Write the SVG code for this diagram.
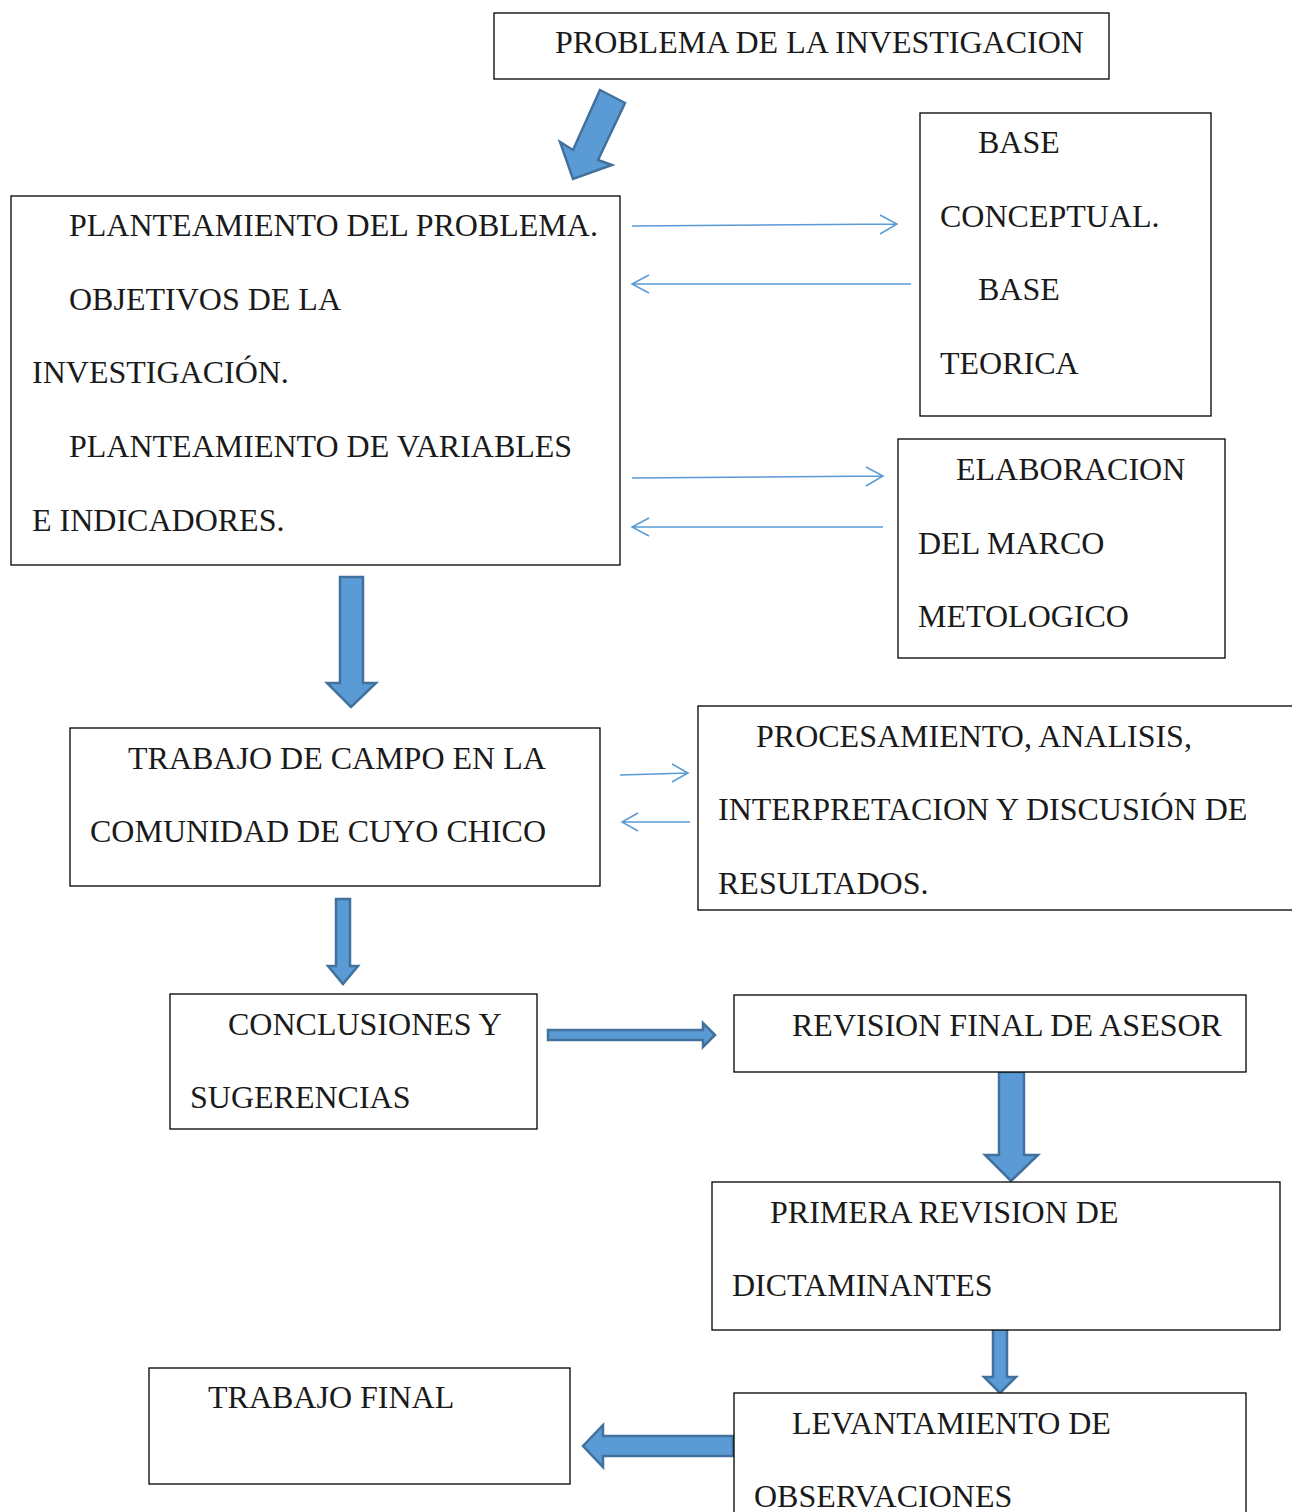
<svg xmlns="http://www.w3.org/2000/svg" width="1292" height="1512" viewBox="0 0 1292 1512">
<style>
.box{fill:#fff;stroke:#000;stroke-width:1.3}
.t{font-family:"Liberation Serif","Times New Roman",serif;font-size:32px;fill:#1a1a1a}
.blk{fill:#5b9bd5;stroke:#41719c;stroke-width:2.5;stroke-linejoin:miter}
.thin{fill:none;stroke:#5b9bd5;stroke-width:1.5}
</style>
<rect width="1292" height="1512" fill="#fff"/>
<g id="connectors">
<polygon class="blk" points="600,90 625,103 598,160 612,165 573,179 560,142 573,150"/>
<polygon class="blk" points="340,577 363,577 363,683 376,683 351,707 327,683 340,683"/>
<polygon class="blk" points="336,899 350,899 350,966 358,966 343,984 328,966 336,966"/>
<polygon class="blk" points="548,1030 703,1030 703,1023 715,1035 703,1047 703,1040 548,1040"/>
<polygon class="blk" points="999,1072 1024,1072 1024,1155 1038,1155 1011,1181 985,1155 999,1155"/>
<polygon class="blk" points="993,1329 1007,1329 1007,1377 1016,1377 1000,1393 984,1377 993,1377"/>
<polygon class="blk" points="733,1436 603,1436 603,1425 583,1446 603,1467 603,1456 733,1456"/>
<path class="thin" d="M632,226 L897,224 M880,215 L897,224 L880,234"/>
<path class="thin" d="M911,284 L632,284 M649,275 L632,284 L649,293"/>
<path class="thin" d="M632,478 L883,476 M866,467 L883,476 L866,486"/>
<path class="thin" d="M883,527 L632,527 M649,518 L632,527 L649,536"/>
<path class="thin" d="M620,775 L688,773 M672,764 L688,773 L672,782"/>
<path class="thin" d="M690,822 L622,822 M638,813 L622,822 L638,831"/>
</g>
<g id="n-problema"><rect class="box" x="494" y="13" width="615" height="66"/><text class="t" x="555" y="53">PROBLEMA DE LA INVESTIGACION</text></g>
<g id="n-planteamiento"><rect class="box" x="11" y="196" width="609" height="369"/>
<text class="t" x="69" y="236">PLANTEAMIENTO DEL PROBLEMA.</text>
<text class="t" x="69" y="310">OBJETIVOS DE LA</text>
<text class="t" x="32" y="383">INVESTIGACIÓN.</text>
<text class="t" x="69" y="457">PLANTEAMIENTO DE VARIABLES</text>
<text class="t" x="32" y="531">E INDICADORES.</text></g>
<g id="n-base"><rect class="box" x="920" y="113" width="291" height="303"/>
<text class="t" x="978" y="153">BASE</text>
<text class="t" x="940" y="227">CONCEPTUAL.</text>
<text class="t" x="978" y="300">BASE</text>
<text class="t" x="940" y="374">TEORICA</text></g>
<g id="n-elaboracion"><rect class="box" x="898" y="439" width="327" height="219"/>
<text class="t" x="956" y="480">ELABORACION</text>
<text class="t" x="918" y="554">DEL MARCO</text>
<text class="t" x="918" y="627">METOLOGICO</text></g>
<g id="n-trabajo-campo"><rect class="box" x="70" y="728" width="530" height="158"/>
<text class="t" x="128" y="769">TRABAJO DE CAMPO EN LA</text>
<text class="t" x="90" y="842">COMUNIDAD DE CUYO CHICO</text></g>
<g id="n-procesamiento"><rect class="box" x="698" y="706" width="620" height="204"/>
<text class="t" x="756" y="747">PROCESAMIENTO, ANALISIS,</text>
<text class="t" x="718" y="820">INTERPRETACION Y DISCUSIÓN DE</text>
<text class="t" x="718" y="894">RESULTADOS.</text></g>
<g id="n-conclusiones"><rect class="box" x="170" y="994" width="367" height="135"/>
<text class="t" x="228" y="1035">CONCLUSIONES Y</text>
<text class="t" x="190" y="1108">SUGERENCIAS</text></g>
<g id="n-revision-final"><rect class="box" x="734" y="995" width="512" height="77"/>
<text class="t" x="792" y="1036">REVISION FINAL DE ASESOR</text></g>
<g id="n-primera"><rect class="box" x="712" y="1182" width="568" height="148"/>
<text class="t" x="770" y="1223">PRIMERA REVISION DE</text>
<text class="t" x="732" y="1296">DICTAMINANTES</text></g>
<g id="n-levantamiento"><rect class="box" x="734" y="1393" width="512" height="140"/>
<text class="t" x="792" y="1434">LEVANTAMIENTO DE</text>
<text class="t" x="754" y="1507">OBSERVACIONES</text></g>
<g id="n-trabajo-final"><rect class="box" x="149" y="1368" width="421" height="116"/>
<text class="t" x="208" y="1408">TRABAJO FINAL</text></g>
</svg>
